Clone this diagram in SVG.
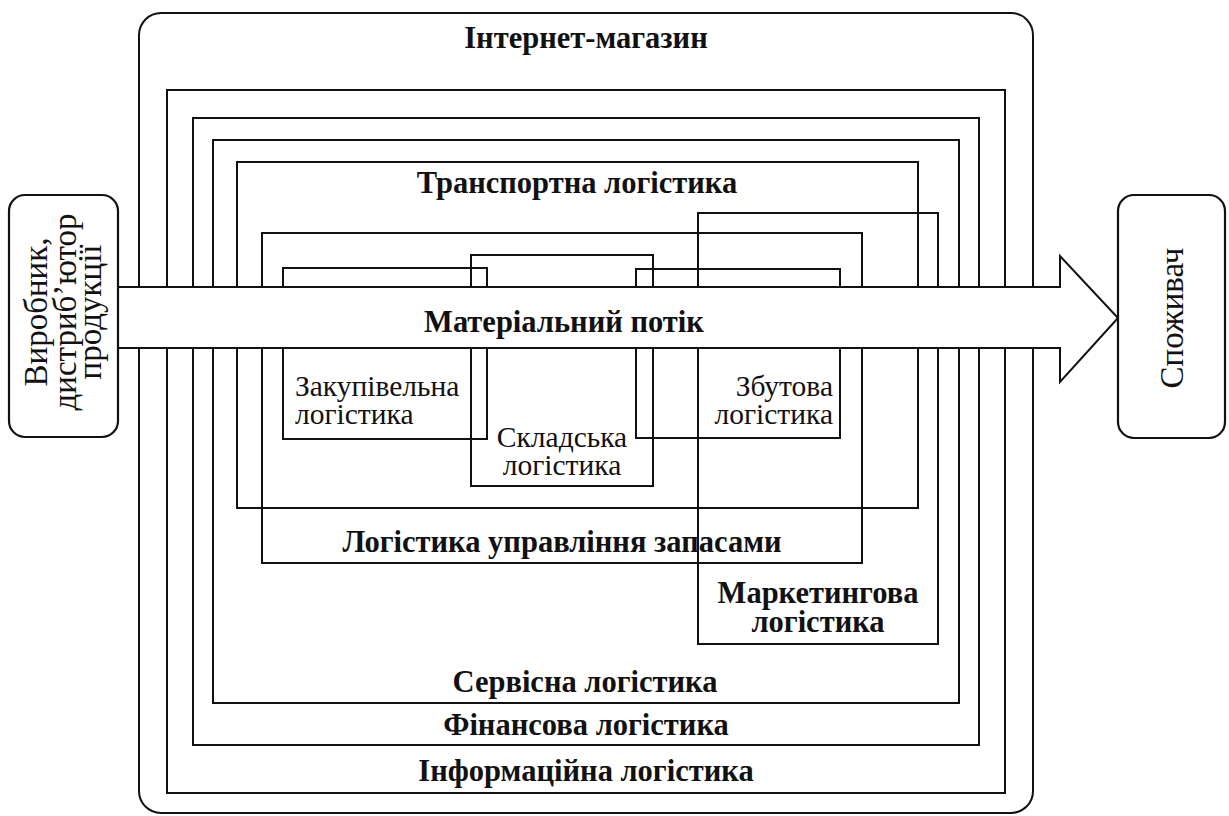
<svg xmlns="http://www.w3.org/2000/svg" width="1229" height="816" viewBox="0 0 1229 816">
<style>
.box{fill:none;stroke:#111;stroke-width:2}
.rbox{fill:#fff;stroke:#111;stroke-width:2.2}
.b{font-family:"Liberation Serif","Times New Roman",serif;font-weight:bold;font-size:30.5px;fill:#111;text-anchor:middle}
.r{font-family:"Liberation Serif","Times New Roman",serif;font-size:29.5px;fill:#111}
.v{font-family:"Liberation Serif","Times New Roman",serif;font-size:33px;fill:#111;text-anchor:middle}
</style>
<rect width="1229" height="816" fill="#fff"/>
<g id="shop">
<rect class="box" x="139" y="13" width="894" height="800" rx="22" stroke-width="2.5"/>
<text class="b" x="586" y="48">Інтернет-магазин</text>
</g>
<g id="info"><rect class="box" x="167" y="90" width="838" height="703"/></g>
<g id="finance"><rect class="box" x="193" y="118" width="786" height="627"/></g>
<g id="service"><rect class="box" x="213" y="140" width="746" height="563"/></g>
<g id="transport"><rect class="box" x="237" y="162" width="681" height="346"/></g>
<g id="inventory"><rect class="box" x="262" y="233" width="600" height="330"/></g>
<g id="marketing"><rect class="box" x="698" y="213" width="240" height="431"/></g>
<g id="purchase"><rect class="box" x="283" y="268" width="204" height="171"/></g>
<g id="warehouse"><rect class="box" x="471" y="255" width="182" height="231"/></g>
<g id="sales"><rect class="box" x="636" y="269" width="204" height="169"/></g>
<g id="connectors">
<path d="M119,287 H1060 V256 L1118,318 L1060,382 V348 H119" fill="#fff" stroke="#111" stroke-width="2"/>
</g>
<g id="producer">
<rect class="rbox" x="9" y="195" width="109" height="242" rx="16"/>
<text class="v" transform="translate(63,312) rotate(-90)"><tspan x="0" y="-16">Виробник,</tspan><tspan x="0" y="13">дистриб’ютор</tspan><tspan x="0" y="38">продукції</tspan></text>
</g>
<g id="consumer">
<rect class="rbox" x="1118" y="195" width="107" height="243" rx="16"/>
<text class="v" transform="translate(1183,318) rotate(-90)" x="0" y="0" font-size="31.5">Споживач</text>
</g>
<g id="labels">
<text class="b" x="577" y="193">Транспортна логістика</text>
<text class="b" x="564" y="332">Матеріальний потік</text>
<text class="b" x="562" y="552">Логістика управління запасами</text>
<text class="b" x="818" y="603">Маркетингова</text>
<text class="b" x="818" y="632">логістика</text>
<text class="b" x="585" y="692">Сервісна логістика</text>
<text class="b" x="586" y="735">Фінансова логістика</text>
<text class="b" x="586" y="781">Інформаційна логістика</text>
<text class="r" x="295" y="396">Закупівельна</text>
<text class="r" x="295" y="424">логістика</text>
<text class="r" x="562" y="447" text-anchor="middle">Складська</text>
<text class="r" x="562" y="475" text-anchor="middle">логістика</text>
<text class="r" x="833" y="396" text-anchor="end">Збутова</text>
<text class="r" x="833" y="424" text-anchor="end">логістика</text>
</g>
</svg>
